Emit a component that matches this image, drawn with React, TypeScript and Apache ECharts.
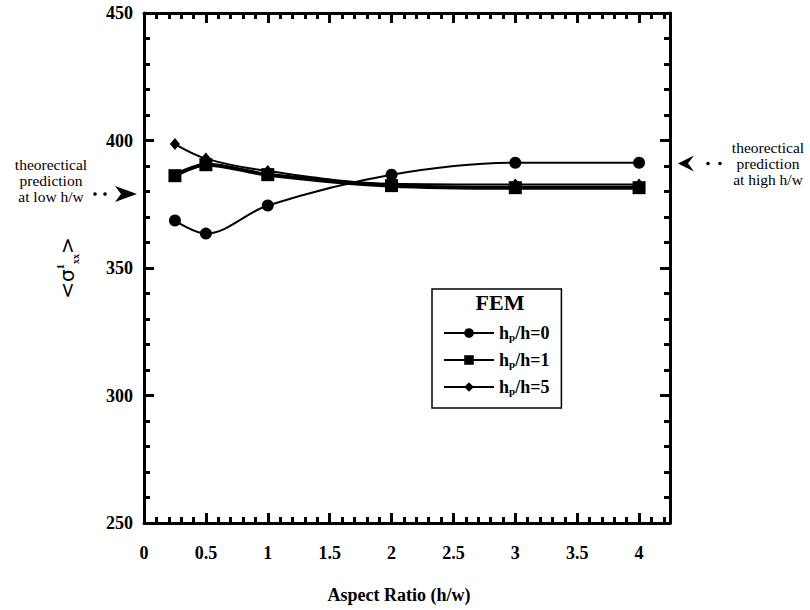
import React, { useEffect, useRef } from 'react';
import * as echarts from 'echarts';

// ---- data ----
const aspectRatios = [0.25, 0.5, 1, 2, 3, 4];
const femHp0 = [368.6, 363.5, 374.5, 386.6, 391.3, 391.3];
const femHp1 = [386.2, 390.5, 386.6, 382.3, 381.5, 381.5];
const femHp5 = [398.6, 392.9, 388.0, 383.0, 382.7, 382.7];
const seriesNames = ['hp/h=0', 'hp/h=1', 'hp/h=5'];
const seriesSubscripts = ['0', '1', '5'];
const xTickLabels = ['0', '0.5', '1', '1.5', '2', '2.5', '3', '3.5', '4'];
const yTickLabels = ['250', '300', '350', '400', '450'];
const lowPrediction = 379;
const highPrediction = 391;

const SERIF = '"Liberation Serif", "Times New Roman", serif';

export default function App() {
  const ref = useRef<HTMLDivElement>(null);

  useEffect(() => {
    if (!ref.current) return;
    const chart = echarts.init(ref.current, null, { renderer: 'svg' });

    const axisLine = { show: true, onZero: false, lineStyle: { color: '#000', width: 3 } };
    const majorTick = { show: true, inside: true, length: 10, lineStyle: { color: '#000', width: 3 } };
    const minorTickAxis = { show: true, inside: true, length: 6, lineStyle: { color: '#000', width: 3 } };
    const minorTickY = { show: true, splitNumber: 5, length: 6, lineStyle: { color: '#000', width: 3 } };
    const labelStyle = { color: '#000', fontFamily: SERIF, fontWeight: 'bold' as const, fontSize: 18 };

    const xBase = { type: 'value' as const, min: 0, max: 4.25, splitLine: { show: false } };
    const yBase = { type: 'value' as const, min: 250, max: 450, interval: 50, splitLine: { show: false } };

    const toPairs = (ys: number[]) => aspectRatios.map((x, i) => [x, ys[i]]);

    const option: any = {
      animation: false,
      backgroundColor: '#fff',
      grid: { left: 144, right: 140, top: 13, bottom: 87, containLabel: false, outerBoundsMode: 'none' },
      xAxis: [
        {
          ...xBase,
          interval: 0.5,
          position: 'bottom',
          axisLine,
          axisTick: majorTick,
          axisLabel: {
            ...labelStyle,
            margin: 21,
            formatter: (v: number) => xTickLabels[Math.round(v / 0.5)] ?? '',
          },
          name: 'Aspect Ratio (h/w)',
          nameLocation: 'middle',
          nameGap: 63,
          nameTextStyle: { ...labelStyle, fontSize: 18, padding: [0, 16, 0, 0] },
        },
        {
          ...xBase,
          interval: 0.1,
          position: 'bottom',
          axisLine: { show: false, onZero: false },
          axisTick: minorTickAxis,
          axisLabel: { show: false },
        },
        {
          ...xBase,
          interval: 0.5,
          position: 'top',
          axisLine,
          axisTick: majorTick,
          axisLabel: { show: false },
        },
        {
          ...xBase,
          interval: 0.1,
          position: 'top',
          axisLine: { show: false, onZero: false },
          axisTick: minorTickAxis,
          axisLabel: { show: false },
        },
      ],
      yAxis: [
        {
          ...yBase,
          position: 'left',
          axisLine,
          axisTick: majorTick,
          minorTick: minorTickY,
          axisLabel: {
            ...labelStyle,
            margin: 11,
            formatter: (v: number) => yTickLabels[Math.round((v - 250) / 50)] ?? '',
          },
          name: '<σ{sup|1}{sub|xx}>',
          nameLocation: 'middle',
          nameRotate: 90,
          nameGap: 64,
          nameTextStyle: {
            color: '#000',
            fontFamily: '"DejaVu Sans", sans-serif',
            fontSize: 20,
            lineHeight: 26,
            rich: {
              sup: { fontSize: 11, fontFamily: SERIF, fontWeight: 'bold', color: '#000', verticalAlign: 'top', lineHeight: 12 },
              sub: { fontSize: 10, fontFamily: SERIF, fontWeight: 'bold', color: '#000', verticalAlign: 'bottom', lineHeight: 10 },
            },
          },
        },
        {
          ...yBase,
          position: 'right',
          axisLine,
          axisTick: majorTick,
          minorTick: minorTickY,
          axisLabel: { show: false },
        },
      ],
      legend: {
        orient: 'vertical',
        left: 432,
        top: 289,
        padding: [35, 12, 12, 11],
        itemWidth: 50,
        itemHeight: 12,
        itemGap: 9,
        borderColor: '#000',
        borderWidth: 1.5,
        backgroundColor: '#fff',
        data: seriesNames,
        formatter: (name: string) => {
          const i = seriesNames.indexOf(name);
          return 'h{p|p}/h=' + seriesSubscripts[i];
        },
        textStyle: {
          ...labelStyle,
          fontSize: 18,
          lineHeight: 18,
          rich: {
            p: { fontSize: 11, fontFamily: SERIF, fontWeight: 'bold', color: '#000', verticalAlign: 'bottom', lineHeight: 10 },
          },
        },
      },
      series: [
        {
          name: seriesNames[0],
          type: 'line',
          xAxisIndex: 0,
          yAxisIndex: 0,
          data: toPairs(femHp0),
          smooth: 0.35,
          symbol: 'circle',
          symbolSize: 12,
          lineStyle: { color: '#000', width: 2 },
          itemStyle: { color: '#000' },
          z: 3,
        },
        {
          name: seriesNames[1],
          type: 'line',
          xAxisIndex: 0,
          yAxisIndex: 0,
          data: toPairs(femHp1),
          smooth: 0.35,
          symbol: 'rect',
          symbolSize: 13,
          lineStyle: { color: '#000', width: 4 },
          itemStyle: { color: '#000' },
          z: 2,
        },
        {
          name: seriesNames[2],
          type: 'line',
          xAxisIndex: 0,
          yAxisIndex: 0,
          data: toPairs(femHp5),
          smooth: 0.35,
          symbol: 'diamond',
          symbolSize: [10, 12],
          lineStyle: { color: '#000', width: 2 },
          itemStyle: { color: '#000' },
          z: 4,
        },
      ],
    };

    chart.setOption(option);

    const low = chart.convertToPixel({ gridIndex: 0 }, [0, lowPrediction]) as number[];
    const high = chart.convertToPixel({ gridIndex: 0 }, [4.25, highPrediction]) as number[];
    const ly = low[1];
    const lx = low[0]; // left edge of plot
    const hy = high[1];
    const hx = high[0]; // right edge of plot
    const annotFont = '15.5px ' + SERIF;

    chart.setOption({
      graphic: [
        {
          type: 'text',
          x: 500,
          y: 302,
          style: { text: 'FEM', font: 'bold 22px ' + SERIF, fill: '#000', textAlign: 'center', textVerticalAlign: 'middle' },
          z: 100,
        },
        {
          type: 'text',
          x: 51,
          y: ly - 14,
          style: {
            text: 'theorectical\nprediction\nat low h/w',
            font: annotFont,
            lineHeight: 16,
            fill: '#000',
            textAlign: 'center',
            textVerticalAlign: 'middle',
          },
        },
        { type: 'circle', shape: { cx: lx - 49, cy: ly, r: 1.8 }, style: { fill: '#000' } },
        { type: 'circle', shape: { cx: lx - 39, cy: ly, r: 1.8 }, style: { fill: '#000' } },
        {
          type: 'polygon',
          shape: { points: [[lx - 7, ly], [lx - 29, ly - 8], [lx - 23, ly], [lx - 29, ly + 8]] },
          style: { fill: '#000' },
        },
        {
          type: 'text',
          x: 768,
          y: hy,
          style: {
            text: 'theorectical\nprediction\nat high h/w',
            font: annotFont,
            lineHeight: 16,
            fill: '#000',
            textAlign: 'center',
            textVerticalAlign: 'middle',
          },
        },
        {
          type: 'polygon',
          shape: { points: [[hx + 8, hy], [hx + 24, hy - 8], [hx + 18, hy], [hx + 24, hy + 8]] },
          style: { fill: '#000' },
        },
        { type: 'circle', shape: { cx: hx + 38, cy: hy, r: 1.8 }, style: { fill: '#000' } },
        { type: 'circle', shape: { cx: hx + 50, cy: hy, r: 1.8 }, style: { fill: '#000' } },
      ],
    });

    return () => chart.dispose();
  }, []);

  return (
    <div
      ref={ref}
      style={{ position: 'fixed', left: 0, top: 0, width: 810, height: 610, background: '#fff' }}
    />
  );
}
